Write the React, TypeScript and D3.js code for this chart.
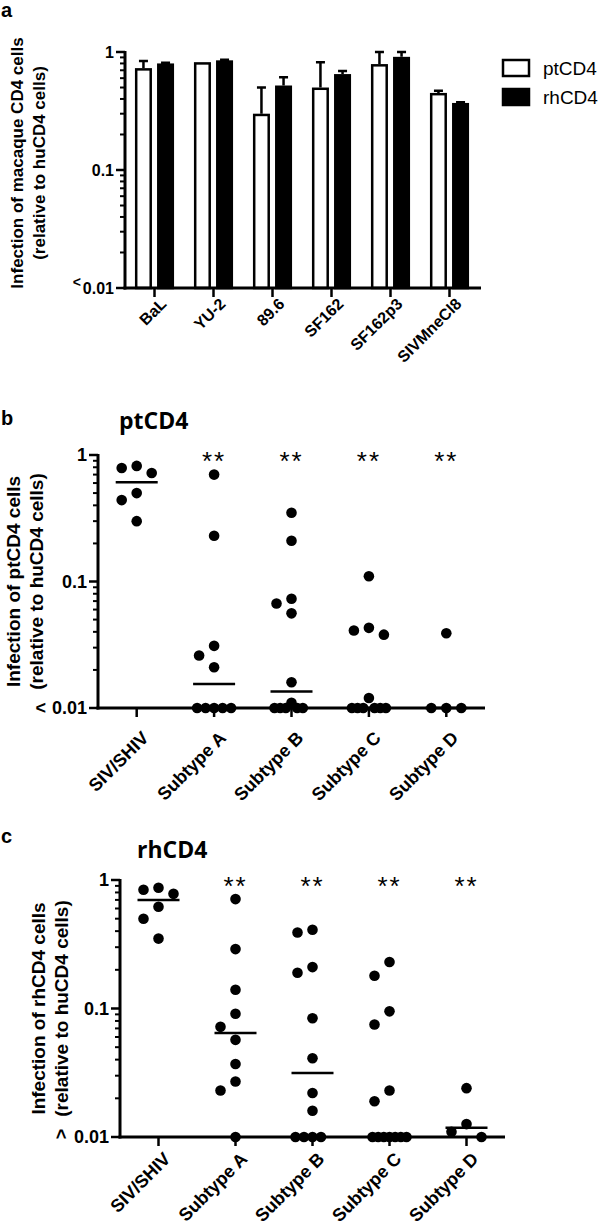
import React, { useRef, useEffect } from "react";
import * as d3 from "d3";

// panel a: bars (mean and top of the error bar)
const strains = ["BaL", "YU-2", "89.6", "SF162", "SF162p3", "SIVMneCl8"];
const series = ["ptCD4", "rhCD4"];
const ptMean = [0.73, 0.82, 0.3, 0.5, 0.79, 0.45];
const ptUpper = [0.84, 0.82, 0.5, 0.82, 1.0, 0.47];
const rhMean = [0.8, 0.85, 0.52, 0.65, 0.91, 0.37];
const rhUpper = [0.81, 0.86, 0.61, 0.69, 1.0, 0.375];

// panels b and c: single isolates
const groups = ["SIV/SHIV", "Subtype A", "Subtype B", "Subtype C", "Subtype D"];
const stars = ["", "**", "**", "**", "**"];

const ptSiv = [0.82, 0.79, 0.72, 0.5, 0.44, 0.3];
const ptA = [0.7, 0.23, 0.031, 0.026, 0.021, 0.01, 0.01, 0.01, 0.01, 0.01];
const ptB = [0.35, 0.21, 0.073, 0.067, 0.056, 0.016, 0.011, 0.01, 0.01, 0.01, 0.01, 0.01];
const ptC = [0.11, 0.043, 0.041, 0.038, 0.012, 0.01, 0.01, 0.01, 0.01, 0.01, 0.01];
const ptD = [0.039, 0.01, 0.01, 0.01];

const rhSiv = [0.87, 0.84, 0.78, 0.62, 0.5, 0.35];
const rhA = [0.71, 0.29, 0.14, 0.091, 0.072, 0.057, 0.037, 0.027, 0.023, 0.01];
const rhB = [0.41, 0.39, 0.21, 0.19, 0.084, 0.041, 0.022, 0.016, 0.01, 0.01, 0.01, 0.01];
const rhC = [0.23, 0.18, 0.095, 0.075, 0.023, 0.019, 0.01, 0.01, 0.01, 0.01, 0.01, 0.01, 0.01];
const rhD = [0.024, 0.0126, 0.011, 0.01];

const majorTicks = [1, 0.1, 0.01];
const tickLabels = ["1", "0.1", "0.01"];

const FONT = "'Liberation Sans', Arial, sans-serif";
const TITLE_FONT = "'Open Sans', sans-serif";

// beeswarm like Prism: slide dots sideways, squeeze crowded rows into the column
function swarm(values, cx, y, step = 15, halfWidth = 17) {
  const placed = [];
  const order = values.map((_, i) => i).sort((a, b) => values[b] - values[a]);
  const hit = (p, px, py) => ((p.x - px) / step) ** 2 + ((p.y - py) / 14) ** 2 < 0.99;
  for (const i of order) {
    const py = y(values[i]);
    for (let k = 0; k < 40; k++) {
      const off = k === 0 ? 0 : (k % 2 === 1 ? -1 : 1) * Math.ceil(k / 2) * step;
      const px = cx + off;
      if (!placed.some((p) => hit(p, px, py))) {
        placed.push({ x: px, y: py });
        break;
      }
    }
  }
  const rows = d3.group(placed, (p) => Math.round(p.y * 2));
  rows.forEach((row) => {
    const maxOff = d3.max(row, (p) => Math.abs(p.x - cx));
    if (maxOff > halfWidth) {
      const f = halfWidth / maxOff;
      row.forEach((p) => (p.x = cx + (p.x - cx) * f));
    }
  });
  return placed;
}

function drawLogAxis(g, y, x0, xEnd, fontSize, lessMode) {
  const minors = [];
  [0.01, 0.1].forEach((d) => d3.range(2, 10).forEach((k) => minors.push(k * d)));
  g.selectAll(null)
    .data(minors)
    .enter()
    .append("line")
    .attr("x1", x0 - 5)
    .attr("x2", x0)
    .attr("y1", (d) => y(d))
    .attr("y2", (d) => y(d))
    .attr("stroke", "#000")
    .attr("stroke-width", 2);
  g.selectAll(null)
    .data(majorTicks)
    .enter()
    .append("line")
    .attr("x1", x0 - 9)
    .attr("x2", x0)
    .attr("y1", (d) => y(d))
    .attr("y2", (d) => y(d))
    .attr("stroke", "#000")
    .attr("stroke-width", 2.5);
  g.append("line")
    .attr("x1", x0)
    .attr("x2", x0)
    .attr("y1", y(1) - 1)
    .attr("y2", y(0.01) + 1.5)
    .attr("stroke", "#000")
    .attr("stroke-width", 3);
  g.append("line")
    .attr("x1", x0 - 1.5)
    .attr("x2", xEnd)
    .attr("y1", y(0.01))
    .attr("y2", y(0.01))
    .attr("stroke", "#000")
    .attr("stroke-width", 3);

  majorTicks.forEach((t, i) => {
    g.append("text")
      .attr("x", x0 - 11)
      .attr("y", y(t))
      .attr("dy", "0.36em")
      .attr("text-anchor", "end")
      .attr("font-family", FONT)
      .attr("font-weight", "bold")
      .attr("font-size", fontSize)
      .text(tickLabels[i]);
  });
  // the "<" in front of 0.01
  const zeroW = fontSize * 1.946;
  const lx = x0 - 11 - zeroW;
  if (lessMode === "small") {
    g.append("text")
      .attr("x", lx - 2)
      .attr("y", y(0.01) - 1)
      .attr("text-anchor", "end")
      .attr("font-family", FONT)
      .attr("font-weight", "bold")
      .attr("font-size", fontSize - 2)
      .text("<");
  } else if (lessMode === "space") {
    g.append("text")
      .attr("x", lx - 6)
      .attr("y", y(0.01))
      .attr("dy", "0.36em")
      .attr("text-anchor", "end")
      .attr("font-family", FONT)
      .attr("font-weight", "bold")
      .attr("font-size", fontSize)
      .text("<");
  } else {
    g.append("text")
      .attr("transform", `translate(${lx - 12},${y(0.01) - 3}) rotate(90)`)
      .attr("text-anchor", "middle")
      .attr("dy", "0.36em")
      .attr("font-family", FONT)
      .attr("font-weight", "bold")
      .attr("font-size", fontSize)
      .text("<");
  }
}

function drawYLabel(g, x1, x2, cy, line1, line2, fontSize) {
  [line1, line2].forEach((t, i) => {
    g.append("text")
      .attr("transform", `translate(${i === 0 ? x1 : x2},${cy}) rotate(-90)`)
      .attr("text-anchor", "middle")
      .attr("font-family", FONT)
      .attr("font-weight", "bold")
      .attr("font-size", fontSize)
      .text(t);
  });
}

function drawXLabels(g, x, names, yAxis, tickLen, dx, dy, fontSize) {
  names.forEach((n) => {
    const cx = x(n) + x.bandwidth() / 2;
    g.append("line")
      .attr("x1", cx)
      .attr("x2", cx)
      .attr("y1", yAxis)
      .attr("y2", yAxis + tickLen)
      .attr("stroke", "#000")
      .attr("stroke-width", 2.5);
    g.append("text")
      .attr("transform", `translate(${cx + dx},${yAxis + dy}) rotate(-45)`)
      .attr("text-anchor", "end")
      .attr("dominant-baseline", "hanging")
      .attr("font-family", FONT)
      .attr("font-weight", "bold")
      .attr("font-size", fontSize)
      .text(n);
  });
}

function drawScatter(svg, cfg) {
  const { data, top, bottom, left, right, title, titleX, titleY, letterY, labelX1, labelX2, line1, lessMode, labelDy } = cfg;
  const g = svg.append("g");
  const y = d3.scaleLog().domain([0.01, 1]).range([bottom, top]);
  const x = d3.scaleBand().domain(groups).range([left, right]);

  g.append("text")
    .attr("x", 1)
    .attr("y", letterY)
    .attr("font-family", FONT)
    .attr("font-weight", "bold")
    .attr("font-size", 20)
    .text(cfg.letter);
  g.append("text")
    .attr("x", titleX)
    .attr("y", titleY)
    .attr("font-family", TITLE_FONT)
    .attr("font-weight", "bold")
    .attr("font-size", 23)
    .text(title);

  drawYLabel(g, labelX1, labelX2, (top + bottom) / 2, line1, "(relative to huCD4 cells)", 19);

  data.forEach((vals, i) => {
    const cx = x(groups[i]) + x.bandwidth() / 2;
    const pts = swarm(vals, cx, y);
    g.selectAll(null)
      .data(pts)
      .enter()
      .append("circle")
      .attr("cx", (d) => d.x)
      .attr("cy", (d) => d.y)
      .attr("r", 5.3)
      .attr("fill", "#000");
    const med = d3.median(vals);
    g.append("line")
      .attr("x1", cx - 21)
      .attr("x2", cx + 21)
      .attr("y1", y(med))
      .attr("y2", y(med))
      .attr("stroke", "#000")
      .attr("stroke-width", 2.5);
    if (stars[i]) {
      g.append("text")
        .attr("x", cx)
        .attr("y", y(1))
        .attr("dy", "0.57em")
        .attr("text-anchor", "middle")
        .attr("font-family", FONT)
        .attr("font-size", 26)
        .attr("letter-spacing", 2)
        .text(stars[i]);
    }
  });

  drawLogAxis(g, y, left, right, 18, lessMode);
  drawXLabels(g, x, groups, bottom, 9, 4, labelDy, 18);
}

export default function App() {
  const svgRef = useRef(null);

  useEffect(() => {
    const svg = d3.select(svgRef.current);
    svg.selectAll("*").remove();

    // ---------- panel a ----------
    const ga = svg.append("g");
    const ya = d3.scaleLog().domain([0.01, 1]).range([288, 52]);
    const xa = d3.scaleBand().domain(strains).range([125, 479]);
    const xs = d3.scaleBand().domain(series).range([0, xa.bandwidth()]).paddingInner(0.23).paddingOuter(0.45);

    ga.append("text")
      .attr("x", 1)
      .attr("y", 17)
      .attr("font-family", FONT)
      .attr("font-weight", "bold")
      .attr("font-size", 20)
      .text("a");

    drawYLabel(ga, 23, 45, 163, "Infection of macaque CD4 cells", "(relative to huCD4 cells)", 17);

    const barSets = [
      { name: "ptCD4", mean: ptMean, upper: ptUpper, fill: "#fff" },
      { name: "rhCD4", mean: rhMean, upper: rhUpper, fill: "#000" },
    ];
    barSets.forEach((s) => {
      const rows = strains.map((st, i) => ({ st, m: s.mean[i], u: s.upper[i] }));
      const bx = (d) => xa(d.st) + xs(s.name);
      ga.selectAll(null)
        .data(rows.filter((d) => d.u > d.m * 1.005))
        .enter()
        .append("path")
        .attr("d", (d) => {
          const c = bx(d) + xs.bandwidth() / 2;
          return `M${c},${ya(d.m)}V${ya(d.u)}M${c - 4.5},${ya(d.u)}H${c + 4.5}`;
        })
        .attr("stroke", "#000")
        .attr("stroke-width", 2.5)
        .attr("fill", "none");
      ga.selectAll(null)
        .data(rows)
        .enter()
        .append("rect")
        .attr("x", (d) => bx(d) + 1.25)
        .attr("width", xs.bandwidth() - 2.5)
        .attr("y", (d) => ya(d.m) + 1.25)
        .attr("height", (d) => ya(0.01) - ya(d.m) - 1.25)
        .attr("fill", s.fill)
        .attr("stroke", "#000")
        .attr("stroke-width", 2.5);
    });

    drawLogAxis(ga, ya, 125, 481, 16, "small");
    drawXLabels(ga, xa, strains, 288, 9, 5, 9, 16);

    // legend
    barSets.forEach((s, i) => {
      ga.append("rect")
        .attr("x", 503)
        .attr("y", 60 + i * 29)
        .attr("width", 26)
        .attr("height", 16)
        .attr("fill", s.fill)
        .attr("stroke", "#000")
        .attr("stroke-width", 2.5);
      ga.append("text")
        .attr("x", 543)
        .attr("y", 75 + i * 29)
        .attr("font-family", FONT)
        .attr("font-size", 19)
        .text(s.name);
    });

    // ---------- panel b ----------
    drawScatter(svg, {
      data: [ptSiv, ptA, ptB, ptC, ptD],
      top: 455,
      bottom: 708,
      left: 98,
      right: 485,
      letter: "b",
      letterY: 425,
      title: "ptCD4",
      titleX: 119,
      titleY: 429,
      labelX1: 20,
      labelX2: 43,
      line1: "Infection of ptCD4 cells",
      lessMode: "space",
      labelDy: 22,
    });

    // ---------- panel c ----------
    drawScatter(svg, {
      data: [rhSiv, rhA, rhB, rhC, rhD],
      top: 880,
      bottom: 1137,
      left: 120,
      right: 505,
      letter: "c",
      letterY: 843,
      title: "rhCD4",
      titleX: 137,
      titleY: 858,
      labelX1: 45,
      labelX2: 68,
      line1: "Infection of rhCD4 cells",
      lessMode: "rotated",
      labelDy: 14,
    });
  }, []);

  return (
    <svg
      ref={svgRef}
      width={600}
      height={1229}
      style={{ position: "absolute", left: 0, top: 0, background: "#fff" }}
    ></svg>
  );
}
